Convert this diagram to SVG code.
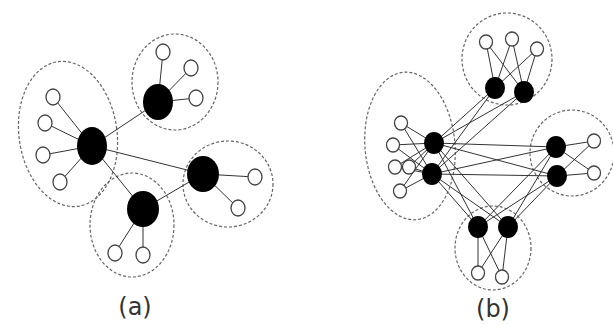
<svg xmlns="http://www.w3.org/2000/svg" width="613" height="325" viewBox="0 0 613 325">
<style>
.bg{fill:#fff}
.cl{fill:none;stroke:#666;stroke-width:1.2;stroke-dasharray:3 2}
.e{stroke:#333;stroke-width:1;fill:none}
.hb{fill:#000}
.lf{fill:#fff;stroke:#444;stroke-width:1.3}
.lbl{font-family:"DejaVu Sans",sans-serif;font-size:24px;fill:#333;text-anchor:middle}
</style>
<rect class="bg" width="613" height="325"/>
<g id="clusters-a">
<ellipse class="cl" cx="68" cy="134" rx="49" ry="73" transform="rotate(-8 68 134)"/>
<ellipse class="cl" cx="175" cy="82" rx="43" ry="48"/>
<ellipse class="cl" cx="228" cy="184" rx="45" ry="43"/>
<ellipse class="cl" cx="132" cy="225" rx="42" ry="52"/>
</g>
<g id="connectors-a">
<line class="e" x1="92" y1="146" x2="158" y2="102"/>
<line class="e" x1="92" y1="146" x2="203" y2="174"/>
<line class="e" x1="92" y1="146" x2="143" y2="209"/>
<line class="e" x1="143" y1="209" x2="203" y2="174"/>
<line class="e" x1="92" y1="146" x2="53" y2="97"/>
<line class="e" x1="92" y1="146" x2="45" y2="123"/>
<line class="e" x1="92" y1="146" x2="43" y2="155"/>
<line class="e" x1="92" y1="146" x2="60" y2="182"/>
<line class="e" x1="158" y1="102" x2="163" y2="52"/>
<line class="e" x1="158" y1="102" x2="191" y2="68"/>
<line class="e" x1="158" y1="102" x2="196" y2="98"/>
<line class="e" x1="203" y1="174" x2="255" y2="177"/>
<line class="e" x1="203" y1="174" x2="238" y2="208"/>
<line class="e" x1="143" y1="209" x2="115" y2="253"/>
<line class="e" x1="143" y1="209" x2="143" y2="255"/>
</g>
<g id="a-hub-left"><ellipse class="hb" cx="92" cy="146" rx="15" ry="19"/></g>
<g id="a-hub-top"><ellipse class="hb" cx="158" cy="102" rx="15" ry="18"/></g>
<g id="a-hub-right"><ellipse class="hb" cx="203" cy="174" rx="16" ry="18"/></g>
<g id="a-hub-bottom"><ellipse class="hb" cx="143" cy="209" rx="16" ry="18"/></g>
<g id="a-leaves">
<ellipse class="lf" cx="53" cy="97" rx="7" ry="8"/>
<ellipse class="lf" cx="45" cy="123" rx="7" ry="8"/>
<ellipse class="lf" cx="43" cy="155" rx="7" ry="8"/>
<ellipse class="lf" cx="60" cy="182" rx="7" ry="8"/>
<ellipse class="lf" cx="163" cy="52" rx="7" ry="8"/>
<ellipse class="lf" cx="191" cy="68" rx="7" ry="8"/>
<ellipse class="lf" cx="196" cy="98" rx="7" ry="8"/>
<ellipse class="lf" cx="255" cy="177" rx="7" ry="8"/>
<ellipse class="lf" cx="238" cy="208" rx="7" ry="8"/>
<ellipse class="lf" cx="115" cy="253" rx="7" ry="8"/>
<ellipse class="lf" cx="143" cy="255" rx="7" ry="8"/>
</g>
<g id="clusters-b">
<ellipse class="cl" cx="410" cy="146" rx="45" ry="74" transform="rotate(-5 410 146)"/>
<ellipse class="cl" cx="507" cy="59" rx="45" ry="46"/>
<ellipse class="cl" cx="572" cy="153" rx="42" ry="43"/>
<ellipse class="cl" cx="493" cy="248" rx="38" ry="42"/>
</g>
<g id="connectors-b">
<line class="e" x1="434" y1="143" x2="495" y2="88"/>
<line class="e" x1="434" y1="143" x2="524" y2="92"/>
<line class="e" x1="432" y1="174" x2="495" y2="88"/>
<line class="e" x1="432" y1="174" x2="524" y2="92"/>
<line class="e" x1="434" y1="143" x2="556" y2="147"/>
<line class="e" x1="434" y1="143" x2="557" y2="176"/>
<line class="e" x1="432" y1="174" x2="556" y2="147"/>
<line class="e" x1="432" y1="174" x2="557" y2="176"/>
<line class="e" x1="434" y1="143" x2="478" y2="227"/>
<line class="e" x1="434" y1="143" x2="508" y2="227"/>
<line class="e" x1="432" y1="174" x2="478" y2="227"/>
<line class="e" x1="432" y1="174" x2="508" y2="227"/>
<line class="e" x1="556" y1="147" x2="478" y2="227"/>
<line class="e" x1="556" y1="147" x2="508" y2="227"/>
<line class="e" x1="557" y1="176" x2="478" y2="227"/>
<line class="e" x1="557" y1="176" x2="508" y2="227"/>
<line class="e" x1="486" y1="42" x2="495" y2="88"/>
<line class="e" x1="486" y1="42" x2="524" y2="92"/>
<line class="e" x1="512" y1="39" x2="495" y2="88"/>
<line class="e" x1="512" y1="39" x2="524" y2="92"/>
<line class="e" x1="537" y1="49" x2="495" y2="88"/>
<line class="e" x1="537" y1="49" x2="524" y2="92"/>
<line class="e" x1="401" y1="123" x2="434" y2="143"/>
<line class="e" x1="401" y1="123" x2="432" y2="174"/>
<line class="e" x1="393" y1="145" x2="434" y2="143"/>
<line class="e" x1="393" y1="145" x2="432" y2="174"/>
<line class="e" x1="395" y1="167" x2="434" y2="143"/>
<line class="e" x1="395" y1="167" x2="432" y2="174"/>
<line class="e" x1="409" y1="167" x2="434" y2="143"/>
<line class="e" x1="409" y1="167" x2="432" y2="174"/>
<line class="e" x1="400" y1="191" x2="434" y2="143"/>
<line class="e" x1="400" y1="191" x2="432" y2="174"/>
<line class="e" x1="594" y1="141" x2="556" y2="147"/>
<line class="e" x1="594" y1="141" x2="557" y2="176"/>
<line class="e" x1="594" y1="173" x2="556" y2="147"/>
<line class="e" x1="594" y1="173" x2="557" y2="176"/>
<line class="e" x1="478" y1="273" x2="478" y2="227"/>
<line class="e" x1="478" y1="273" x2="508" y2="227"/>
<line class="e" x1="502" y1="277" x2="478" y2="227"/>
<line class="e" x1="502" y1="277" x2="508" y2="227"/>
</g>
<g id="b-hubs-top">
<ellipse class="hb" cx="495" cy="88" rx="10" ry="11"/>
<ellipse class="hb" cx="524" cy="92" rx="10" ry="11"/>
</g>
<g id="b-hubs-left">
<ellipse class="hb" cx="434" cy="143" rx="10" ry="11"/>
<ellipse class="hb" cx="432" cy="174" rx="10" ry="11"/>
</g>
<g id="b-hubs-right">
<ellipse class="hb" cx="556" cy="147" rx="10" ry="11"/>
<ellipse class="hb" cx="557" cy="176" rx="10" ry="11"/>
</g>
<g id="b-hubs-bottom">
<ellipse class="hb" cx="478" cy="227" rx="10" ry="11"/>
<ellipse class="hb" cx="508" cy="227" rx="10" ry="11"/>
</g>
<g id="b-leaves">
<ellipse class="lf" cx="486" cy="42" rx="6.5" ry="7"/>
<ellipse class="lf" cx="512" cy="39" rx="6.5" ry="7"/>
<ellipse class="lf" cx="537" cy="49" rx="6.5" ry="7"/>
<ellipse class="lf" cx="401" cy="123" rx="6.5" ry="7"/>
<ellipse class="lf" cx="393" cy="145" rx="6.5" ry="7"/>
<ellipse class="lf" cx="395" cy="167" rx="6.5" ry="7"/>
<ellipse class="lf" cx="409" cy="167" rx="6.5" ry="7"/>
<ellipse class="lf" cx="400" cy="191" rx="6.5" ry="7"/>
<ellipse class="lf" cx="594" cy="141" rx="6.5" ry="7"/>
<ellipse class="lf" cx="594" cy="173" rx="6.5" ry="7"/>
<ellipse class="lf" cx="478" cy="273" rx="6.5" ry="7"/>
<ellipse class="lf" cx="502" cy="277" rx="6.5" ry="7"/>
</g>
<g id="labels">
<text class="lbl" x="135" y="315">(a)</text>
<text class="lbl" x="493" y="317">(b)</text>
</g>
</svg>
